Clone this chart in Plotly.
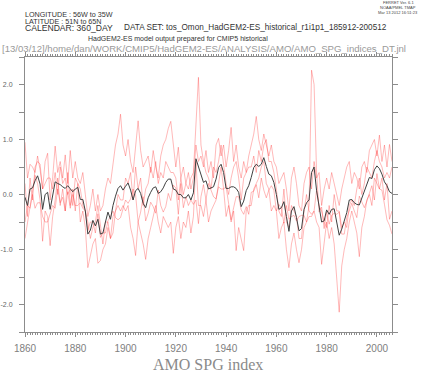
import plotly.graph_objects as go

years = list(range(1860, 2007))

# ensemble mean (black)
mean_idx = [
    -0.05, -0.2, 0.1, 0.12, 0.25, 0.34, 0.19, -0.27, 0.0, 0.04,
    -0.27, -0.05, 0.23, 0.2, 0.18, 0.14, 0.11, 0.16, 0.11, 0.05,
    0.1, 0.13, -0.09, -0.09, -0.3, -0.72, -0.65, -0.47, -0.57, -0.45,
    -0.72, -0.7, -0.5, -0.32, -0.45, -0.2, -0.03, 0.11, 0.16, 0.08,
    0.15, 0.21, 0.08, -0.1, 0.07, 0.11, 0.02, -0.16, -0.24, -0.06,
    0.04, 0.12, 0.14, 0.02, 0.05, 0.12, 0.22, 0.28, 0.28, 0.1,
    0.08, 0.0, 0.0, -0.06, -0.06, 0.0, -0.1, 0.03, 0.65, 0.5,
    0.34, 0.22, 0.25, 0.1, 0.12, 0.14, 0.28, 0.49, 0.55, 0.4,
    0.11, 0.11, 0.14, 0.14, 0.11, 0.04, -0.22, -0.12, 0.07, 0.16,
    0.31, 0.49, 0.55, 0.51, 0.55, 0.67, 0.51, 0.37, 0.34, 0.22,
    0.0, -0.27, -0.24, -0.13, -0.4, -0.67, -0.3, -0.22, -0.42, -0.66,
    -0.62, -0.27, -0.15, -0.1, 0.4, 0.5, 0.07, -0.18, -0.5, -0.48,
    -0.28, -0.36, -0.27, -0.26, -0.54, -0.74, -0.63, -0.48, -0.33, -0.1,
    -0.09, -0.15, -0.18, -0.19, -0.06, 0.04, 0.17, 0.31, 0.29, 0.45,
    0.52, 0.47, 0.37, 0.23, 0.16, 0.05, 0.02,
]

member_a = [
    0.95, 0.3, 0.55, 0.5, 0.4, 0.7, 0.45, 0.1, 0.6, 0.75,
    -0.1, 0.3, 0.88, 0.4, 0.6, 0.3, 0.72, 0.2, 0.8, 0.3,
    0.6, 0.3, 0.2, 0.4, 0.0, -0.4, -0.2, 0.1, -0.3, 0.0,
    -0.3, -0.2, 0.1, 0.3, 0.2, 0.6, 0.9, 1.1, 1.46, 0.9,
    0.7, 1.0, 0.6, 0.4, 0.9, 1.34, 0.8, 0.5, 0.6, 0.7,
    0.4, 0.8, 0.5, 0.3, 0.7, 0.9, 1.0, 1.2, 1.33, 0.9,
    0.5, 0.86, 0.3, 0.5, 0.2, 0.4, 0.1, 0.3, 0.9, 0.6,
    0.7, 0.5, 0.8, 0.4, 0.6, 0.3, 0.9, 1.02, 0.7, 0.9,
    0.5, 0.8, 1.22, 0.6, 0.9, 0.5, 0.3, 0.6, 0.4, 0.7,
    0.9, 1.1, 1.42, 1.0, 0.8, 1.1, 0.9, 0.7, 0.9, 0.6,
    0.5, 0.2, 0.3, 0.4, 0.1, -0.3, 0.3, 0.5, 0.2, -0.2,
    -0.3, 0.2, 0.4, 0.5, 0.1, 0.6, 0.3, 0.4, -0.2, 0.1,
    0.3, 0.1, 0.4, 0.2, 0.0, -0.2, 0.1, 0.3, 0.5, 0.6,
    0.2, 0.4, 0.3, 0.1, 0.5, 0.6, 0.4, 0.8, 0.9, 1.0,
    0.7, 1.08, 0.6, 0.9, 0.5, 0.91, 0.6,
]

member_b = [
    -0.8, -0.5, -0.2, 0.1, 0.35, 0.2, -0.1, -0.85, -0.3, -0.4,
    -0.93, -0.4, -0.1, 0.3, -0.2, 0.1, -0.3, 0.4, -0.2, 0.1,
    -0.3, 0.2, -0.5, -0.3, -0.6, -1.33, -1.1, -0.9, -0.8, -1.25,
    -1.2, -1.0, -0.9, -0.6, -0.8, -0.7, -0.3, -0.2, -0.3, -0.2,
    -0.3, -0.2, -0.6, -0.8, -1.11, -0.5, -0.7, -0.9, -1.18, -0.8,
    -0.6, -0.4, -0.2, -0.5, -0.7, -0.4, -0.5, -0.6, -0.5, -1.07,
    -0.6, -0.4, -0.8, -0.5, -0.6, -0.3, -0.7, -0.4, 0.6, -0.2,
    -0.2, -0.4, -0.1, -0.5, -0.3, -0.2, -0.1, 0.2, 0.5, 0.1,
    -0.4, -0.2, -0.5, -0.3, -1.02, -0.6, -0.8, -1.02, -0.3, -0.2,
    -0.2, 0.1, 0.2, 0.3, 0.5, 0.6, 0.2, 0.1, -0.3, -0.2,
    -0.3, -0.8, -0.6, -0.5, -1.0, -1.33, -0.9, -0.7, -1.0, -1.24,
    -1.0, -0.6, -0.5, -0.4, -0.4, -0.3, -0.5, -0.6, -1.27, -0.9,
    -0.5, -0.8, -0.6, -0.9, -1.5, -2.14, -1.3, -1.0, -0.8, -0.5,
    -0.3, -0.5, -0.7, -1.13, -0.6, -0.4, -0.1, 0.0, -0.2, 0.3,
    0.2, 0.1, 0.3, -0.1, 0.2, -0.45, -0.3,
]

member_c = [
    0.2, -0.4, 0.3, -0.1, 0.5, 0.6, 0.55, 0.1, 0.2, 0.3,
    0.3, 0.1, 0.4, 0.0, 0.5, 0.2, 0.3, 0.0, 0.1, -0.2,
    0.3, 0.2, 0.1, -0.2, -0.3, -0.5, -0.8, -0.6, -0.5, -0.2,
    -0.6, -0.9, -0.5, -0.5, -0.8, -0.4, -0.3, 0.0, -0.1, -0.1,
    0.3, 0.2, 0.4, -0.1, 0.5, 0.1, 0.3, -0.2, 0.1, 0.2,
    0.5, 0.3, 0.6, 0.2, 0.4, 0.3, 0.6, 0.5, 0.4, 0.4,
    0.3, -0.1, 0.3, 0.0, 0.2, 0.1, 0.3, 0.4, 1.2, 2.13,
    0.9, 0.6, 0.4, 0.3, 0.1, 0.5, 0.4, 0.6, 0.9, 0.5,
    0.2, 0.0, 0.3, 0.5, 0.6, 0.3, -0.1, 0.3, 0.4, 0.5,
    0.5, 0.7, 0.4, 0.8, 0.6, 0.9, 1.0, 0.6, 0.6, 0.4,
    0.1, -0.3, -0.4, 0.1, -0.5, -0.6, -0.2, -0.3, -0.4, -0.8,
    -0.8, -0.3, 0.0, -0.3, -0.36, -0.3, 0.08, -0.2, -0.3, -0.5,
    -0.6, -0.2, -0.5, 0.0, -0.3, -0.3, -0.6, -0.5, -0.6, -0.2,
    -0.1, -0.2, 0.1, 0.3, 0.0, 0.2, 0.5, 0.4, 0.3, 0.6,
    0.8, 0.6, 0.5, 0.3, 0.4, 0.3, 0.5,
]

member_d = [
    -0.5, -0.2, -0.25, 0.0, -0.25, -0.15, -0.15, -0.4, -0.5, -0.5,
    -0.35, -0.2, -0.25, 0.1, -0.15, -0.05, -0.3, 0.05, -0.25, 0.0,
    -0.2, -0.2, -0.15, -0.25, -0.3, -0.65, -0.5, -0.5, -0.7, -0.35,
    -0.78, -0.7, -0.7, -0.48, -0.4, -0.3, -0.42, -0.46, -0.42, -0.28,
    -0.1, -0.16, -0.08, 0.1, -0.01, -0.5, -0.32, -0.04, -0.48, -0.34,
    -0.14, -0.22, -0.34, 0.08, -0.2, -0.32, -0.22, 0.02, -0.11, 0.17,
    0.12, -0.36, 0.2, -0.24, -0.04, -0.2, -0.1, -0.18, -0.1, -0.53,
    -0.04, 0.18, -0.1, 0.2, 0.08, -0.04, -0.08, 0.14, 0.1, 0.1,
    0.14, -0.16, -0.46, -0.24, -0.04, -0.04, -0.28, -0.36, -0.22, -0.36,
    0.04, 0.06, 0.18, -0.06, 0.3, 0.08, -0.06, 0.08, 0.16, 0.08,
    -0.3, -0.18, -0.26, -0.52, -0.2, -0.45, -0.4, -0.38, -0.48, -0.4,
    -0.38, -0.38, -0.5, -0.2, 2.26, 2.0, 0.4, -0.32, -0.23, -0.62,
    -0.32, -0.54, -0.38, -0.34, -0.36, -0.32, -0.72, -0.72, -0.42, -0.3,
    -0.16, -0.3, -0.42, -0.03, -0.14, -0.24, -0.12, 0.04, 0.16, -0.1,
    0.38, 0.1, 0.08, -0.18, -0.46, -0.56, -0.72,
]

members = [member_a, member_b, member_c, member_d]

x_ticks = [1860, 1880, 1900, 1920, 1940, 1960, 1980, 2000]
y_ticks = [-2.0, -1.0, 0.0, 1.0, 2.0]
y_ticktext = ["-2.0", "-1.0", "0.0", "1.0", "2.0"]

header_lines = ["LONGITUDE : 56W to 35W", "LATITUDE : 51N to 65N", "CALENDAR: 360_DAY"]
dataset_text = "DATA SET: tos_Omon_HadGEM2-ES_historical_r1i1p1_185912-200512"
subtitle_text = "HadGEM2-ES model output prepared for CMIP5 historical"
path_text = "[13/03/12]/home/dan/WORK/CMIP5/HadGEM2-ES/ANALYSIS/AMO/AMO_SPG_indices_DT.jnl"
ferret_lines = ["FERRET Ver. 6.1", "NOAA/PMEL TMAP", "Mar 13 2012 16:51:23"]
title_text = "AMO SPG index"

W, H = 421, 374
L, R, T, B = 25, 29, 57, 42
pw, ph = W - L - R, H - T - B


def px(xp):
    return (xp - L) / pw


def py(yp):
    return (H - B - yp) / ph


fig = go.Figure()
for m in members:
    fig.add_trace(go.Scatter(x=years, y=m, mode="lines",
                             line=dict(color="rgba(255,50,50,0.34)", width=1),
                             showlegend=False, hoverinfo="skip"))
fig.add_trace(go.Scatter(x=years, y=mean_idx, mode="lines",
                         line=dict(color="#404040", width=1),
                         showlegend=False))

SANS = "Liberation Sans, Arial, sans-serif"
ann = []
hdr_sizes = [7.2, 7.2, 8.6]
for i, t in enumerate(header_lines):
    ann.append(dict(text=t, x=px(24), y=py(14 + 7 * i), xanchor="left", yanchor="middle",
                    font=dict(family=SANS, size=hdr_sizes[i], color="#333333")))
ann.append(dict(text=dataset_text, x=px(123), y=py(28), xanchor="left", yanchor="middle",
                font=dict(family=SANS, size=8.2, color="#333333")))
ann.append(dict(text=subtitle_text, x=px(178), y=py(39), xanchor="center", yanchor="middle",
                font=dict(family=SANS, size=7, color="#333333")))
ann.append(dict(text=path_text, x=px(1), y=py(48), xanchor="left", yanchor="middle",
                font=dict(family=SANS, size=9.6, color="#9a9a9a")))
for i, t in enumerate(ferret_lines):
    ann.append(dict(text=t, x=px(398), y=py(2.5 + 5 * i), xanchor="center", yanchor="middle",
                    font=dict(family=SANS, size=4, color="#444444")))
ann.append(dict(text=title_text, x=px(208), y=py(374), xanchor="center", yanchor="bottom",
                font=dict(family="Liberation Serif, Times New Roman, serif", size=16, color="#8a8a8a")))
for a in ann:
    a.update(xref="paper", yref="paper", showarrow=False, borderpad=0)

axis_col = "#8c8c8c"
fig.update_layout(
    width=W, height=H,
    margin=dict(l=L, r=R, t=T, b=B, pad=0, autoexpand=False),
    paper_bgcolor="white", plot_bgcolor="white",
    annotations=ann,
    xaxis=dict(range=[1860, 2006], tickvals=x_ticks, ticks="outside", ticklen=4,
               tickcolor=axis_col, showline=True, linecolor=axis_col, linewidth=1,
               mirror="ticks", showgrid=False, zeroline=False, automargin=False,
               tickfont=dict(family=SANS, size=10, color="#808080"),
               ticklabelstandoff=3,
               minor=dict(dtick=1, ticks="outside", ticklen=2, tickcolor=axis_col, showgrid=False)),
    yaxis=dict(range=[-2.5, 2.5], tickvals=y_ticks, ticktext=y_ticktext, ticks="outside",
               ticklen=5, tickcolor=axis_col, showline=True, linecolor=axis_col, linewidth=1,
               mirror="ticks", showgrid=False, zeroline=False, automargin=False,
               tickfont=dict(family=SANS, size=7, color="#666666"),
               ticklabelstandoff=5,
               minor=dict(dtick=0.5, ticks="outside", ticklen=5, tickcolor=axis_col, showgrid=False)),
)

fig.write_html("out.html", config={"displayModeBar": False},
               post_script="document.body.style.margin='0';document.body.style.overflow='hidden';")
